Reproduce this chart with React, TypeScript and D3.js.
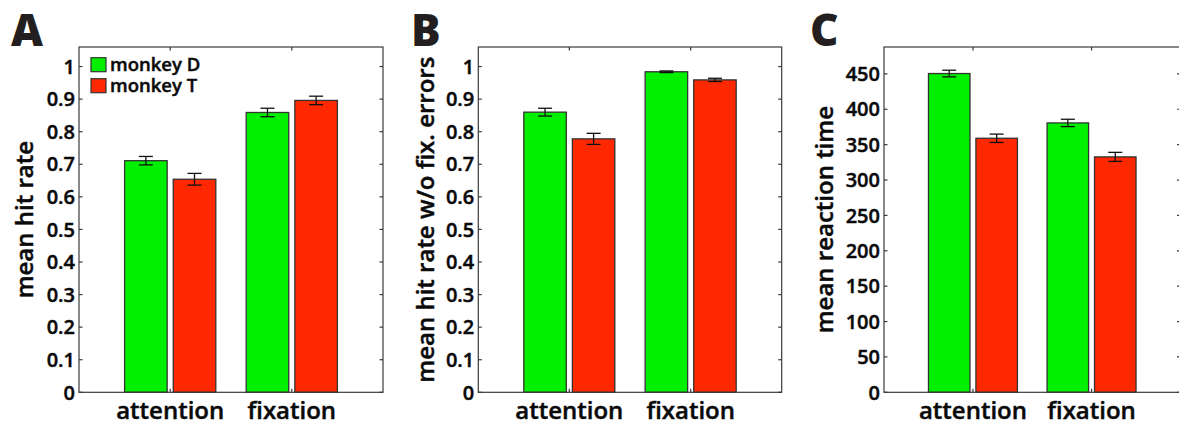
import React from 'react';
import * as d3 from 'd3';

// Conditions on the x axis and the two animals
const categories = ['attention', 'fixation'];
const seriesNames = ['monkey D', 'monkey T'];
const seriesColors = ['#00f000', '#ff2800'];

// Panel A: mean hit rate (mean ± s.e.m.)
const hitRateD = [0.711, 0.859];
const hitRateDErr = [0.013, 0.013];
const hitRateT = [0.654, 0.896];
const hitRateTErr = [0.018, 0.013];

// Panel B: mean hit rate without fixation errors
const hitRateNoFixD = [0.86, 0.984];
const hitRateNoFixDErr = [0.012, 0.0025];
const hitRateNoFixT = [0.778, 0.959];
const hitRateNoFixTErr = [0.017, 0.005];

// Panel C: mean reaction time
const reactionD = [450.5, 380.7];
const reactionDErr = [4.7, 5.2];
const reactionT = [359, 332.7];
const reactionTErr = [5.9, 6.4];

// Tick values
const rateTicks = [0, 0.1, 0.2, 0.3, 0.4, 0.5, 0.6, 0.7, 0.8, 0.9, 1];
const rtTicks = [0, 50, 100, 150, 200, 250, 300, 350, 400, 450];

const FONT = "'Open Sans', 'DejaVu Sans', sans-serif";
const AXIS_COLOR = '#3a3a3a';
const TEXT_COLOR = '#0a0a0a';
const TOP = 47;
const BOTTOM = 392.3;
const TICK_LEN = 3.5;

// slightly heavier text strokes
const textStyle = {
  fontFamily: FONT,
  fontWeight: 600,
  fill: TEXT_COLOR,
  stroke: TEXT_COLOR,
  strokeWidth: 0.45,
} as const;

type PanelProps = {
  letter: string;
  letterX: number;
  left: number;
  right: number;
  yMax: number;
  ticks: number[];
  tickFormat: (v: number) => string;
  yLabel: string;
  yLabelX: number;
  means: number[][];
  errs: number[][];
  legend?: boolean;
};

function Panel(p: PanelProps) {
  const x = d3.scaleLinear().domain([0.25, 2.75]).range([p.left, p.right]);
  const y = d3.scaleLinear().domain([0, p.yMax]).range([BOTTOM, TOP]);
  const unit = x(1) - x(0);
  const barW = 0.35 * unit;
  const offsets = [-0.2, 0.2];
  const capHalf = 7;

  return (
    <g>
      <text x={p.letterX} y={46} fontFamily={FONT} fontWeight={800} fontSize={44} fill="#231f20">
        {p.letter}
      </text>

      {/* bars */}
      {categories.map((c, ci) =>
        seriesNames.map((s, si) => {
          const cx = x(ci + 1 + offsets[si]);
          const v = p.means[si][ci];
          return (
            <rect
              key={c + s}
              x={cx - barW / 2}
              y={y(v)}
              width={barW}
              height={y(0) - y(v)}
              fill={seriesColors[si]}
              stroke="#333"
              strokeWidth={1.3}
            />
          );
        })
      )}

      {/* error bars */}
      {categories.map((c, ci) =>
        seriesNames.map((s, si) => {
          const cx = x(ci + 1 + offsets[si]);
          const v = p.means[si][ci];
          const e = p.errs[si][ci];
          return (
            <g key={'e' + c + s} stroke="#111" strokeWidth={1.3}>
              <line x1={cx} x2={cx} y1={y(v + e)} y2={y(v - e)} />
              <line x1={cx - capHalf} x2={cx + capHalf} y1={y(v + e)} y2={y(v + e)} />
              <line x1={cx - capHalf} x2={cx + capHalf} y1={y(v - e)} y2={y(v - e)} />
            </g>
          );
        })
      )}

      {/* axes box */}
      <rect
        x={p.left}
        y={TOP}
        width={p.right - p.left}
        height={BOTTOM - TOP}
        fill="none"
        stroke={AXIS_COLOR}
        strokeWidth={1.2}
      />

      {/* y ticks, inward on both sides */}
      {p.ticks.map((t) => (
        <g key={'yt' + t}>
          <line x1={p.left} x2={p.left + TICK_LEN} y1={y(t)} y2={y(t)} stroke={AXIS_COLOR} strokeWidth={1.2} />
          <line x1={p.right} x2={p.right - TICK_LEN} y1={y(t)} y2={y(t)} stroke={AXIS_COLOR} strokeWidth={1.2} />
          <text x={p.left - 4} y={y(t)} dy="0.36em" textAnchor="end" fontSize={20} {...textStyle}>
            {p.tickFormat(t)}
          </text>
        </g>
      ))}

      {/* x ticks, inward on top and bottom */}
      {categories.map((c, ci) => (
        <g key={'xt' + c}>
          <line x1={x(ci + 1)} x2={x(ci + 1)} y1={BOTTOM} y2={BOTTOM - TICK_LEN} stroke={AXIS_COLOR} strokeWidth={1.2} />
          <line x1={x(ci + 1)} x2={x(ci + 1)} y1={TOP} y2={TOP + TICK_LEN} stroke={AXIS_COLOR} strokeWidth={1.2} />
          <text x={x(ci + 1)} y={419} textAnchor="middle" fontSize={24} {...textStyle}>
            {c}
          </text>
        </g>
      ))}

      {/* y axis label */}
      <text
        transform={`translate(${p.yLabelX},${(TOP + BOTTOM) / 2}) rotate(-90)`}
        textAnchor="middle"
        fontSize={24}
        {...textStyle}
      >
        {p.yLabel}
      </text>

      {p.legend && (
        <g>
          {seriesNames.map((s, si) => (
            <g key={'lg' + s}>
              <rect
                x={p.left + 12}
                y={57.7 + si * 21}
                width={15}
                height={14}
                fill={seriesColors[si]}
                stroke="#333"
                strokeWidth={1.2}
              />
              <text x={p.left + 31} y={71 + si * 21} fontSize={18.5} {...textStyle}>
                {s}
              </text>
            </g>
          ))}
        </g>
      )}
    </g>
  );
}

const rateFormat = (v: number) => (v === 0 ? '0' : v === 1 ? '1' : v.toFixed(1));
const rtFormat = (v: number) => String(v);

export default function App() {
  return (
    <svg
      width={1179}
      height={426}
      style={{ position: 'absolute', left: 0, top: 0, background: '#fff' }}
    >
      <rect x={0} y={0} width={1179} height={426} fill="#fff" />
      <Panel
        letter="A"
        letterX={11}
        left={79}
        right={383}
        yMax={1.06}
        ticks={rateTicks}
        tickFormat={rateFormat}
        yLabel="mean hit rate"
        yLabelX={33}
        means={[hitRateD, hitRateT]}
        errs={[hitRateDErr, hitRateTErr]}
        legend
      />
      <Panel
        letter="B"
        letterX={411}
        left={478.3}
        right={781.7}
        yMax={1.06}
        ticks={rateTicks}
        tickFormat={rateFormat}
        yLabel="mean hit rate w/o fix. errors"
        yLabelX={434}
        means={[hitRateNoFixD, hitRateNoFixT]}
        errs={[hitRateNoFixDErr, hitRateNoFixTErr]}
      />
      <Panel
        letter="C"
        letterX={810}
        left={884}
        right={1180.5}
        yMax={488}
        ticks={rtTicks}
        tickFormat={rtFormat}
        yLabel="mean reaction time"
        yLabelX={833}
        means={[reactionD, reactionT]}
        errs={[reactionDErr, reactionTErr]}
      />
    </svg>
  );
}
